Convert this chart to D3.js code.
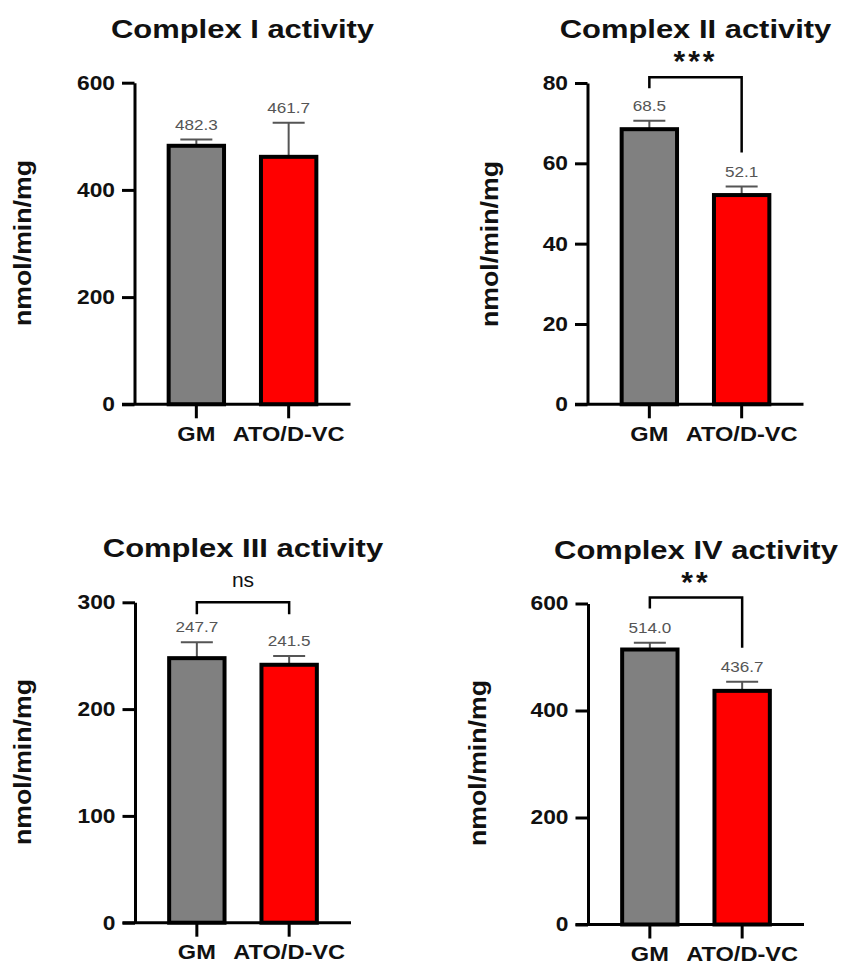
<!DOCTYPE html>
<html>
<head>
<meta charset="utf-8">
<script src="https://cdn.jsdelivr.net/npm/d3@7"></script>
<style>
  html, body { margin: 0; padding: 0; background: #fff; }
  svg { display: block; font-family: "Liberation Sans", Arial, sans-serif; }
</style>
</head>
<body>
<svg id="chart" width="841" height="964"></svg>
<script>
// ---- data ----
const categories = ["GM", "ATO/D-VC"];
const titles = ["Complex I activity", "Complex II activity", "Complex III activity", "Complex IV activity"];
const meanGM  = [482.3, 68.5, 247.7, 514.0];
const meanATO = [461.7, 52.1, 241.5, 436.7];
const semGM   = [11.5, 2.1, 15.0, 12.7];
const semATO  = [63.5, 2.1, 8.2, 17.1];
const yMax    = [600, 80, 300, 600];
const yTicks  = [[0, 200, 400, 600], [0, 20, 40, 60, 80], [0, 100, 200, 300], [0, 200, 400, 600]];
const significance = [null, "***", "ns", "**"];
const yAxisLabel = "nmol/min/mg";
const barColors = ["#808080", "#ff0000"];

// ---- layout (positions only) ----
const layout = [
  { ax: 134.5, y0: 404.3, yTop: 82.7,  ylabX: 23,  ylabY: 243, brOff: 0,    longRight: false },
  { ax: 587.5, y0: 404.3, yTop: 83.0,  ylabX: 490, ylabY: 244, brOff: -5.7, longRight: true },
  { ax: 135.0, y0: 922.7, yTop: 602.3, ylabX: 23,  ylabY: 762, brOff: 0,    longRight: false },
  { ax: 588.0, y0: 924.5, yTop: 603.5, ylabX: 478, ylabY: 763, brOff: -6,   longRight: true }
];

const svg = d3.select("#chart");
const fmt = d3.format(".1f");

function stretch(sel, f) {
  sel.each(function () {
    const w = this.getComputedTextLength();
    d3.select(this).attr("textLength", w * f).attr("lengthAdjust", "spacingAndGlyphs");
  });
}

titles.forEach((title, i) => {
  const L = layout[i];
  const g = svg.append("g");
  const rows = categories.map((c, j) => ({
    cat: c,
    mean: j === 0 ? meanGM[i] : meanATO[i],
    sem: j === 0 ? semGM[i] : semATO[i],
    color: barColors[j]
  }));

  const y = d3.scaleLinear().domain([0, yMax[i]]).range([L.y0, L.yTop]);
  const x = d3.scaleBand().domain(categories).range([L.ax, L.ax + 216])
    .paddingInner(0.4).paddingOuter(0.37);
  const cx = c => x(c) + x.bandwidth() / 2;

  // error bars (drawn below bars)
  const eb = g.append("g").attr("stroke", "#555").attr("stroke-width", 2).attr("fill", "none");
  rows.forEach(r => {
    eb.append("line").attr("x1", cx(r.cat)).attr("x2", cx(r.cat))
      .attr("y1", y(r.mean)).attr("y2", y(r.mean + r.sem));
    eb.append("line").attr("x1", cx(r.cat) - 16).attr("x2", cx(r.cat) + 16)
      .attr("y1", y(r.mean + r.sem)).attr("y2", y(r.mean + r.sem));
  });

  // bars
  g.selectAll("rect.bar").data(rows).join("rect")
    .attr("class", "bar")
    .attr("x", d => x(d.cat))
    .attr("width", x.bandwidth())
    .attr("y", d => y(d.mean))
    .attr("height", d => y(0) - y(d.mean))
    .attr("fill", d => d.color)
    .attr("stroke", "#000")
    .attr("stroke-width", 4);

  // value labels
  g.selectAll("text.val").data(rows).join("text")
    .attr("class", "val")
    .attr("x", d => cx(d.cat))
    .attr("y", d => y(d.mean + d.sem) - 10)
    .attr("text-anchor", "middle")
    .attr("font-size", 15)
    .attr("fill", "#555")
    .text(d => fmt(d.mean))
    .call(stretch, 1.14);

  // y axis
  const yAxis = g.append("g").attr("transform", `translate(${L.ax},0)`)
    .call(d3.axisLeft(y).tickValues(yTicks[i]).tickSize(12.5).tickSizeOuter(0).tickPadding(7).tickFormat(d3.format("d")));
  yAxis.select(".domain").attr("stroke", "#000").attr("stroke-width", 3);
  yAxis.selectAll(".tick line").attr("stroke", "#000").attr("stroke-width", 3);
  yAxis.selectAll(".tick text").attr("font-size", 20).attr("font-weight", "bold")
    .attr("fill", "#111").attr("font-family", "Liberation Sans, Arial, sans-serif")
    .call(stretch, 1.14);

  // x axis
  g.append("line").attr("x1", L.ax - 12.5).attr("x2", L.ax + 216)
    .attr("y1", L.y0).attr("y2", L.y0).attr("stroke", "#000").attr("stroke-width", 3);
  const xAxis = g.append("g").attr("transform", `translate(0,${L.y0})`)
    .call(d3.axisBottom(x).tickSize(14).tickPadding(8.5));
  xAxis.select(".domain").remove();
  xAxis.selectAll(".tick line").attr("stroke", "#000").attr("stroke-width", 3);
  xAxis.selectAll(".tick text").attr("font-size", 20).attr("font-weight", "bold")
    .attr("fill", "#111").attr("font-family", "Liberation Sans, Arial, sans-serif")
    .call(stretch, 1.18);

  // title
  g.append("text").attr("x", L.ax + 108).attr("y", L.yTop - 45)
    .attr("text-anchor", "middle").attr("font-size", 26).attr("font-weight", "bold")
    .attr("fill", "#111").text(title).call(stretch, 1.19);

  // y-axis label
  g.append("text")
    .attr("transform", `translate(${L.ylabX},${L.ylabY}) rotate(-90)`)
    .attr("text-anchor", "middle").attr("dy", "0.35em")
    .attr("font-size", 23.5).attr("font-weight", "bold").attr("fill", "#111")
    .attr("textLength", 166).attr("lengthAdjust", "spacingAndGlyphs")
    .text(yAxisLabel);

  // significance bracket
  if (significance[i]) {
    const yb = L.yTop + L.brOff;
    const xl = cx(categories[0]), xr = cx(categories[1]);
    const rightEnd = L.longRight ? y(rows[1].mean + rows[1].sem) - 34 : yb + 12;
    const leftEnd = yb + (L.longRight ? 11 : 12);
    g.append("path")
      .attr("d", `M${xl},${leftEnd} V${yb} H${xr} V${rightEnd}`)
      .attr("fill", "none").attr("stroke", "#000").attr("stroke-width", 2.5);
    const isNs = significance[i] === "ns";
    g.append("text")
      .attr("x", (xl + xr) / 2)
      .attr("y", isNs ? yb - 15 : yb - 6)
      .attr("text-anchor", "middle")
      .attr("font-size", isNs ? 21 : 30)
      .attr("font-weight", isNs ? "normal" : "bold")
      .attr("fill", "#111")
      .attr("letter-spacing", isNs ? 0 : 3)
      .text(significance[i]);
  }
});
</script>
</body>
</html>
